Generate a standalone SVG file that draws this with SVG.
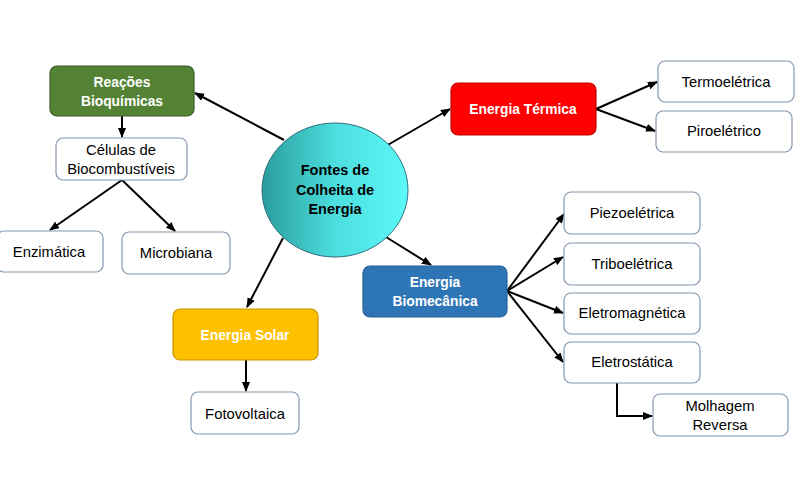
<svg xmlns="http://www.w3.org/2000/svg" width="800" height="500" viewBox="0 0 800 500">
<defs>
<linearGradient id="g" x1="0" y1="0" x2="1" y2="0">
<stop offset="0" stop-color="#2a9c9c"/>
<stop offset="0.5" stop-color="#4cdede"/>
<stop offset="1" stop-color="#5cf8f8"/>
</linearGradient>
<marker id="a" markerWidth="10" markerHeight="8" refX="9" refY="4" orient="auto" markerUnits="userSpaceOnUse">
<path d="M0,0 L10,4 L0,8 Z" fill="#000"/>
</marker>
<style>
.w{fill:#fff;stroke:#8497b0;stroke-width:1.2}
.t{font-family:"Liberation Sans",Arial,sans-serif;font-size:14.8px;fill:#000;text-anchor:middle}
.m{font-family:"Liberation Sans",Arial,sans-serif;font-size:14.5px;font-weight:bold;fill:#000;text-anchor:middle}
.b{font-family:"Liberation Sans",Arial,sans-serif;font-size:13.8px;font-weight:bold;fill:#fff;text-anchor:middle}
.c line,.c path{stroke:#000;stroke-width:2;fill:none;marker-end:url(#a)}
</style>
</defs>
<rect width="800" height="500" fill="#fff"/>
<g class="c" id="connectors">
<line x1="284" y1="140" x2="195" y2="93"/>
<line x1="122" y1="116" x2="122" y2="137"/>
<line x1="122" y1="180" x2="50" y2="230"/>
<line x1="122" y1="180" x2="175" y2="231"/>
<line x1="386" y1="146" x2="450" y2="109"/>
<line x1="596" y1="109" x2="657" y2="82"/>
<line x1="596" y1="109" x2="655" y2="131"/>
<line x1="386" y1="237" x2="431" y2="265"/>
<line x1="283" y1="238" x2="247" y2="307"/>
<line x1="246" y1="360" x2="246" y2="391"/>
<line x1="507" y1="291" x2="564" y2="214"/>
<line x1="507" y1="291" x2="563" y2="257"/>
<line x1="507" y1="291" x2="563" y2="313"/>
<line x1="507" y1="291" x2="563" y2="362"/>
<path d="M617,383 L617,416 L652,416"/>
</g>
<g id="center">
<ellipse cx="335" cy="190" rx="73" ry="67" fill="url(#g)" stroke="#2f6f80" stroke-width="1"/>
<text class="m" x="335" y="175">Fontes de</text>
<text class="m" x="335" y="195">Colheita de</text>
<text class="m" x="335" y="214">Energia</text>
</g>
<g id="reacoes">
<rect x="50" y="66" width="144" height="50" rx="7" fill="#548235" stroke="#3b5d25" stroke-width="1.2"/>
<text class="b" x="122" y="87">Reações</text>
<text class="b" x="122" y="106">Bioquímicas</text>
</g>
<g id="celulas">
<rect class="w" x="56" y="138" width="131" height="42" rx="7"/>
<text class="t" x="121" y="155">Células de</text>
<text class="t" x="121" y="174">Biocombustíveis</text>
</g>
<g id="enzimatica">
<rect class="w" x="-3" y="231" width="106" height="41" rx="7"/>
<text class="t" x="49" y="257">Enzimática</text>
</g>
<g id="microbiana">
<rect class="w" x="122" y="232" width="108" height="42" rx="7"/>
<text class="t" x="176" y="258">Microbiana</text>
</g>
<g id="termica">
<rect x="451" y="83" width="145" height="52" rx="7" fill="#ff0000" stroke="#c00000" stroke-width="1.2"/>
<text class="b" x="523" y="114">Energia Térmica</text>
</g>
<g id="termoeletrica">
<rect class="w" x="658" y="61" width="136" height="41" rx="7"/>
<text class="t" x="726" y="87">Termoelétrica</text>
</g>
<g id="piroeletrico">
<rect class="w" x="656" y="111" width="136" height="41" rx="7"/>
<text class="t" x="724" y="136">Piroelétrico</text>
</g>
<g id="biomecanica">
<rect x="363" y="266" width="144" height="51" rx="7" fill="#2e75b6" stroke="#25609a" stroke-width="1.2"/>
<text class="b" x="435" y="287">Energia</text>
<text class="b" x="435" y="306">Biomecânica</text>
</g>
<g id="piezo">
<rect class="w" x="564" y="192" width="136" height="42" rx="7"/>
<text class="t" x="632" y="218">Piezoelétrica</text>
</g>
<g id="tribo">
<rect class="w" x="564" y="243" width="136" height="42" rx="7"/>
<text class="t" x="632" y="269">Triboelétrica</text>
</g>
<g id="eletromag">
<rect class="w" x="564" y="293" width="136" height="41" rx="7"/>
<text class="t" x="632" y="318">Eletromagnética</text>
</g>
<g id="eletrostatica">
<rect class="w" x="564" y="342" width="136" height="41" rx="7"/>
<text class="t" x="632" y="367">Eletrostática</text>
</g>
<g id="molhagem">
<rect class="w" x="653" y="394" width="135" height="42" rx="7"/>
<text class="t" x="720" y="411">Molhagem</text>
<text class="t" x="720" y="430">Reversa</text>
</g>
<g id="solar">
<rect x="173" y="309" width="145" height="51" rx="7" fill="#ffc000" stroke="#c69500" stroke-width="1.2"/>
<text class="b" x="245" y="340">Energia Solar</text>
</g>
<g id="fotovoltaica">
<rect class="w" x="191" y="392" width="108" height="42" rx="7"/>
<text class="t" x="245" y="419">Fotovoltaica</text>
</g>
</svg>
